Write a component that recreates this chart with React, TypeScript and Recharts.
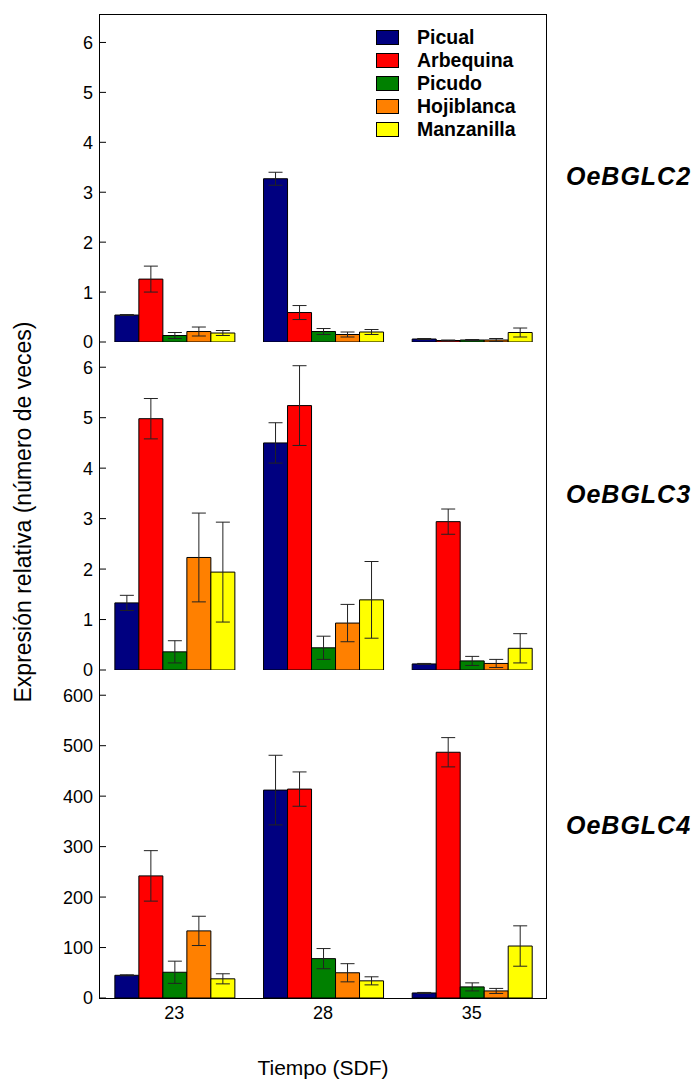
import { BarChart, Bar, XAxis, YAxis, ErrorBar, Legend } from "recharts";

const FONT = '"Liberation Sans", Arial, Helvetica, sans-serif';

const TIEMPOS = ["23", "28", "35"];
const CULTIVARES = ["Picual", "Arbequina", "Picudo", "Hojiblanca", "Manzanilla"];
const COLORES = ["#000080", "#FF0000", "#008000", "#FF8000", "#FFFF00"];

const TICKS_VECES = [0, 1, 2, 3, 4, 5, 6];
const TICKS_CIENTOS = [0, 100, 200, 300, 400, 500, 600];

// filas = cultivar (orden de CULTIVARES), columnas = tiempo (orden de TIEMPOS)
const BGLC2_MEDIAS = [
  [0.54, 3.27, 0.06],
  [1.26, 0.59, 0.03],
  [0.13, 0.21, 0.04],
  [0.21, 0.15, 0.04],
  [0.18, 0.2, 0.19],
];
const BGLC2_ERRORES = [
  [0.01, 0.13, 0.01],
  [0.26, 0.14, 0.01],
  [0.06, 0.06, 0.01],
  [0.09, 0.05, 0.03],
  [0.05, 0.05, 0.09],
];

const BGLC3_MEDIAS = [
  [1.33, 4.5, 0.12],
  [4.98, 5.24, 2.94],
  [0.36, 0.44, 0.18],
  [2.23, 0.93, 0.13],
  [1.94, 1.39, 0.43],
];
const BGLC3_ERRORES = [
  [0.15, 0.4, 0.01],
  [0.4, 0.79, 0.25],
  [0.22, 0.23, 0.09],
  [0.88, 0.37, 0.08],
  [0.99, 0.76, 0.29],
];

const BGLC4_MEDIAS = [
  [45, 412, 10],
  [242, 414, 487],
  [51, 78, 22],
  [133, 50, 14],
  [38, 34, 103],
];
const BGLC4_ERRORES = [
  [1, 69, 1],
  [50, 34, 29],
  [22, 20, 8],
  [29, 18, 5],
  [10, 8, 40],
];

const GENES = ["OeBGLC2", "OeBGLC3", "OeBGLC4"];

const CHART_W = 699;
const MARGIN_LEFT = 40;
const Y_AXIS_W = 60; // eje Y termina en x = 100
const MARGIN_RIGHT = 153; // borde derecho en x = 546

function buildRows(medias: number[][], errores: number[][]) {
  return TIEMPOS.map((t, i) => {
    const row: Record<string, string | number> = { tiempo: t };
    CULTIVARES.forEach((c, k) => {
      row[c] = medias[k][i];
      row[c + "Err"] = errores[k][i];
    });
    return row;
  });
}

// marca hacia dentro + etiqueta a la izquierda
function YTick(props: any) {
  const { x, y, payload } = props;
  return (
    <g>
      <line x1={x + 7} x2={x + 13} y1={y} y2={y} stroke="#000" strokeWidth={1} />
      <text
        x={x}
        y={y}
        dy="0.36em"
        textAnchor="end"
        fontSize={18}
        fontFamily={FONT}
        fill="#000"
      >
        {payload.value}
      </text>
    </g>
  );
}

function Leyenda(props: any) {
  const items = props.payload ?? [];
  return (
    <div>
      {items.map((p: any, k: number) => (
        <div
          key={p.value}
          style={{ display: "flex", alignItems: "center", height: 23 }}
        >
          <span
            style={{
              width: 23,
              height: 15,
              boxSizing: "border-box",
              background: p.color ?? COLORES[k],
              border: "1px solid #000",
            }}
          />
          <span
            style={{
              marginLeft: 18,
              fontSize: 19.5,
              fontWeight: 700,
              fontFamily: FONT,
              color: "#000",
            }}
          >
            {p.value}
          </span>
        </div>
      ))}
    </div>
  );
}

interface PanelProps {
  rows: Record<string, string | number>[];
  domain: [number, number];
  ticks: number[];
  top: number;
  marginTop: number;
  plotH: number;
  last?: boolean;
  legend?: boolean;
}

function Panel({ rows, domain, ticks, top, marginTop, plotH, last, legend }: PanelProps) {
  const xH = last ? 80 : 0;
  const marginBottom = last ? 3 : 10;
  return (
    <div style={{ position: "absolute", left: 0, top }}>
      <BarChart
        width={CHART_W}
        height={marginTop + plotH + xH + marginBottom}
        data={rows}
        margin={{ top: marginTop, right: MARGIN_RIGHT, bottom: marginBottom, left: MARGIN_LEFT }}
        barCategoryGap="10%"
        barGap={0}
      >
        {last ? (
          <XAxis
            dataKey="tiempo"
            height={xH}
            axisLine={false}
            tickLine={false}
            tickSize={0}
            tickMargin={8}
            tick={{ fontSize: 18, fill: "#000", fontFamily: FONT }}
            label={{
              value: "Tiempo (SDF)",
              position: "insideBottom",
              offset: 3,
              fontSize: 21,
              fill: "#000",
              fontFamily: FONT,
            }}
          />
        ) : (
          <XAxis
            dataKey="tiempo"
            height={0}
            tick={false}
            tickLine={false}
            axisLine={{ stroke: "#000", strokeWidth: 1 }}
          />
        )}
        <YAxis
          type="number"
          width={Y_AXIS_W}
          domain={domain}
          ticks={ticks}
          interval={0}
          allowDataOverflow
          axisLine={false}
          tickLine={false}
          tickSize={0}
          tickMargin={7}
          tick={(p: any) => <YTick {...p} />}
        />
        {CULTIVARES.map((c, k) => (
          <Bar
            key={c}
            dataKey={c}
            name={c}
            fill={COLORES[k]}
            stroke="#000"
            strokeWidth={1}
            isAnimationActive={false}
          >
            <ErrorBar
              dataKey={c + "Err"}
              width={7}
              stroke="#222"
              strokeWidth={1}
              direction="y"
              isAnimationActive={false}
            />
          </Bar>
        ))}
        {legend && (
          <Legend
            layout="vertical"
            align="center"
            verticalAlign="middle"
            itemSorter={(item: any) => CULTIVARES.indexOf(item.value)}
            wrapperStyle={{ top: 26, left: 376, width: 160 }}
            content={(p: any) => <Leyenda {...p} />}
          />
        )}
      </BarChart>
    </div>
  );
}

const GEN_Y = [175.5, 493.5, 825];

export default function App() {
  return (
    <div
      style={{
        position: "absolute",
        left: 0,
        top: 0,
        width: 699,
        height: 1081,
        background: "#fff",
        fontFamily: FONT,
      }}
    >
      <Panel
        rows={buildRows(BGLC2_MEDIAS, BGLC2_ERRORES)}
        domain={[0, 6.55]}
        ticks={TICKS_VECES}
        top={0}
        marginTop={15}
        plotH={327}
        legend
      />
      <Panel
        rows={buildRows(BGLC3_MEDIAS, BGLC3_ERRORES)}
        domain={[0, 6.5]}
        ticks={TICKS_VECES}
        top={322}
        marginTop={20}
        plotH={328}
      />
      <Panel
        rows={buildRows(BGLC4_MEDIAS, BGLC4_ERRORES)}
        domain={[0, 650]}
        ticks={TICKS_CIENTOS}
        top={650}
        marginTop={20}
        plotH={328}
        last
      />

      {/* marco exterior de los tres paneles */}
      <div
        style={{
          position: "absolute",
          left: 99,
          top: 14,
          width: 448,
          height: 985,
          boxSizing: "border-box",
          border: "1px solid #000",
          pointerEvents: "none",
        }}
      />

      {/* título del eje Y, común a los tres paneles */}
      <div
        style={{
          position: "absolute",
          left: 23 - 220,
          top: 511.5 - 15,
          width: 440,
          height: 30,
          lineHeight: "30px",
          textAlign: "center",
          fontSize: 23,
          color: "#000",
          transform: "rotate(-90deg)",
          whiteSpace: "nowrap",
        }}
      >
        Expresión relativa (número de veces)
      </div>

      {GENES.map((g, i) => (
        <div
          key={g}
          style={{
            position: "absolute",
            left: 566,
            top: GEN_Y[i] - 15,
            height: 30,
            lineHeight: "30px",
            fontSize: 25,
            fontWeight: 700,
            fontStyle: "italic",
            letterSpacing: 1,
            color: "#000",
            whiteSpace: "nowrap",
          }}
        >
          {g}
        </div>
      ))}
    </div>
  );
}
